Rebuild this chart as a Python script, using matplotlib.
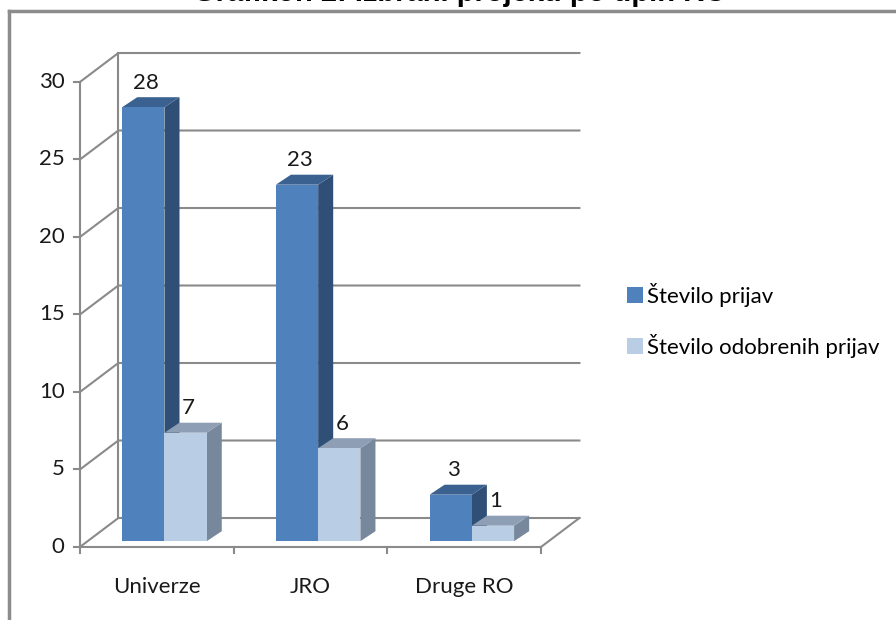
import matplotlib.pyplot as plt
from matplotlib.patches import Polygon, Patch
from matplotlib.lines import Line2D

categories = ["Univerze", "JRO", "Druge RO"]
prijave = [28, 23, 3]
odobrene = [7, 6, 1]
series_names = ["Število prijav", "Število odobrenih prijav"]
y_ticks = [0, 5, 10, 15, 20, 25, 30]
title = "Grafikon 2: Izbrani projekti po tipih RO"

plt.rcParams["font.family"] = ["Lato", "DejaVu Sans"]

front = ["#4F81BD", "#B9CDE5"]
top = ["#3B6190", "#8E9FB5"]
side = ["#2F4F77", "#77889C"]
grid_c = "#8A8A8A"
txt_c = "#1a1a1a"
fs = 16

# pseudo 3d: depth of the chart box and of a bar, in data units
DX, DY = 0.25, 1.87
BDX, BDY = 0.098, 0.645
bw = 0.275
ymax = 30

fig = plt.figure(figsize=(8.96, 6.2), dpi=100)
ax = fig.add_axes([0, 0, 1, 1])
ax.set_xlim(-1.02, 4.81)
ax.set_ylim(-4.71, 35.29)
ax.axis("off")

n = len(categories)
x0, x1 = -0.5, n - 0.5

# walls and grid
for v in y_ticks:
    ax.plot([x0, x0 + DX, x1 + DX], [v, v + DY, v + DY], color=grid_c, lw=1.5, zorder=1)
    ax.plot([x0 - 0.04, x0], [v, v], color=grid_c, lw=1.5, zorder=1)
    ax.text(x0 - 0.1, v, str(v), ha="right", va="center", fontsize=fs, color=txt_c)
ax.plot([x0, x0], [0, ymax], color=grid_c, lw=1.5, zorder=1)
ax.plot([x0 + DX, x0 + DX], [DY, ymax + DY], color=grid_c, lw=1.5, zorder=1)
ax.plot([x0, x1, x1 + DX], [0, 0, DY], color=grid_c, lw=1.5, zorder=1)
for i in range(n + 1):
    ax.plot([x0 + i, x0 + i], [0, -0.4], color=grid_c, lw=1.5, zorder=1)
for i, c in enumerate(categories):
    ax.text(i, -2.6, c, ha="center", va="center", fontsize=fs, color=txt_c)


def bar3d(xl, v, k):
    b = 0.2 * DY
    xs = xl + 0.2 * DX
    xr = xs + bw
    ax.add_patch(Polygon([(xr, b), (xr + BDX, b + BDY), (xr + BDX, b + v + BDY), (xr, b + v)],
                         closed=True, facecolor=side[k], edgecolor="none", zorder=3))
    ax.add_patch(Polygon([(xs, b + v), (xs + BDX, b + v + BDY), (xr + BDX, b + v + BDY), (xr, b + v)],
                         closed=True, facecolor=top[k], edgecolor="none", zorder=3))
    ax.add_patch(Polygon([(xs, b), (xr, b), (xr, b + v), (xs, b + v)],
                         closed=True, facecolor=front[k], edgecolor="none", zorder=3))
    ax.text((xs + xr) / 2 + 0.02, b + v + BDY + 0.3, str(v), ha="center", va="bottom",
            fontsize=fs, color=txt_c, zorder=4)


for i in range(n):
    bar3d(i - bw, prijave[i], 0)
    bar3d(i, odobrene[i], 1)

handles = [Patch(facecolor=front[0]), Patch(facecolor=front[1])]
fig.legend(handles, series_names, loc="upper left", bbox_to_anchor=(0.69, 0.558),
           frameon=False, fontsize=fs, handlelength=0.7, handleheight=0.7,
           handletextpad=0.2, labelspacing=1.2, borderaxespad=0)

# frame of the chart area and clipped title (only its lower part shows)
fig.add_artist(Line2D([9 / 896, 1], [1 - 10.5 / 620] * 2, color="#8C8C8C", lw=2.5))
fig.add_artist(Line2D([9 / 896] * 2, [0, 1 - 10.5 / 620], color="#8C8C8C", lw=2.5))
fig.text(0.513, 1 - 1 / 620, title, ha="center", va="baseline", fontsize=21,
         fontweight="bold", family=["Liberation Sans", "DejaVu Sans"])

fig.savefig("out.png", dpi=100)
